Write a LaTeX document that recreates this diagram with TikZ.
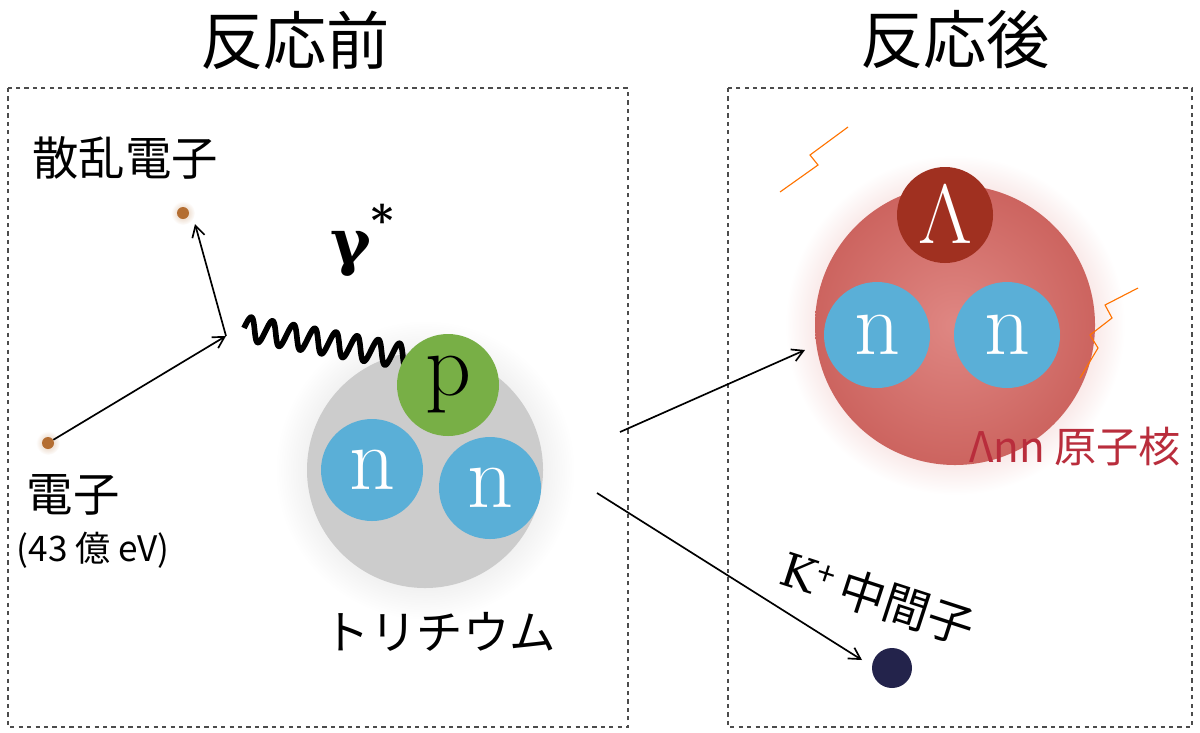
\documentclass[tikz,border=0pt]{standalone}
\usepackage{fontspec}
\newfontfamily\jp{Noto Sans CJK JP}
\newfontfamily\gk{DejaVu Serif}
\usetikzlibrary{arrows.meta}
\definecolor{nblue}{RGB}{90,175,215}
\definecolor{pgreen}{RGB}{120,175,70}
\definecolor{lred}{RGB}{200,60,40}
\definecolor{nred}{RGB}{215,105,100}
\definecolor{dot}{RGB}{180,110,50}
\definecolor{navy}{RGB}{35,35,75}
\definecolor{txtred}{RGB}{185,45,60}
\tikzset{x=0.025cm,y=-0.025cm,
 box/.style={draw=black!70,dashed,line width=0.8pt},
 arr/.style={-{Straight Barb[length=8pt,width=9pt]},line width=1.2pt},
 nuc/.style={circle,minimum size=102*0.025cm,inner sep=0pt,font=\fontsize{64}{64}\selectfont},
 jt/.style={font=\jp\fontsize{33}{33}\selectfont},
 zz/.style={draw=orange!90!red,line width=0.8pt}}
\begin{document}
\begin{tikzpicture}
\useasboundingbox (0,0) rectangle (1200,732);
\node[font=\jp\fontsize{45}{45}\selectfont] (t1) at (295,40) {反応前};
\node[font=\jp\fontsize{45}{45}\selectfont] (t2) at (955,40) {反応後};
\draw[box] (8,88) rectangle (628,727);
\draw[box] (728,88) rectangle (1192,727);
% left
\shade[inner color=black!25,outer color=white] (425,470) circle (150);
\fill[black!20] (425,470) circle (118);
\node[jt] (se) at (125,158) {散乱電子};
\shade[inner color=dot!40,outer color=white] (183,213) circle (12);
\node[circle,fill=dot,minimum size=12*0.025cm,inner sep=0pt] (d1) at (183,213) {};
\shade[inner color=dot!40,outer color=white] (48,443) circle (12);
\node[circle,fill=dot,minimum size=12*0.025cm,inner sep=0pt] (d2) at (48,443) {};
\coordinate (v) at (226,336);
\draw[arr] (d2) -- (v);
\draw[arr] (v) -- (195,224);
\begin{scope}[shift={(244,328)},rotate=-10]
\draw[line width=4pt,line join=round] plot[domain=0:8,samples=240,smooth] ({\x*21.5},{-12*sin(\x*360)});
\end{scope}
\node[font=\gk\bfseries\fontsize{44}{44}\selectfont] (g) at (362,240) {γ\raisebox{0.45em}{\fontsize{30}{30}\selectfont *}};
\node[nuc,fill=pgreen] (p) at (448,385) {p};
\node[nuc,fill=nblue,text=white] (n1) at (372,470) {n};
\node[nuc,fill=nblue,text=white] (n2) at (490,488) {n};
\node[jt,anchor=west] (e) at (22,495) {電子};
\node[font=\jp\fontsize{25}{25}\selectfont,anchor=west] (ev) at (12,550) {(43 億 eV)};
\node[jt] (tr) at (440,632) {トリチウム};
\coordinate (a1) at (620,432);
\coordinate (a2) at (597,493);
% right
\shade[inner color=nred!80,outer color=white] (955,325) circle (170);
\shade[inner color=nred!80!white,outer color=nred!95!black] (955,325) circle (140);
\node[nuc,fill=lred!80!black,text=white,minimum size=96*0.025cm] (L) at (945,215) {\scalebox{2.4}{$\Lambda$}};
\node[nuc,fill=nblue,text=white,minimum size=106*0.025cm] (n3) at (877,335) {n};
\node[nuc,fill=nblue,text=white,minimum size=106*0.025cm] (n4) at (1007,335) {n};
\coordinate (b1) at (805,350);
\coordinate (b2) at (862,660);
\draw[arr] (a1) -- (b1);
\draw[arr] (a2) -- (b2);
\draw[zz] (848,127) -- (810,155) -- (818,165) -- (780,192);
\draw[zz] (1138,288) -- (1105,305) -- (1112,318) -- (1090,335) -- (1098,348) -- (1080,378);
\node[font=\jp\fontsize{30}{30}\selectfont,text=txtred] (ann) at (1075,447) {Λnn 原子核};
\node[jt,rotate=-18] (k) at (878,598) {{\gk K}\textsuperscript{+}\,中間子};
\node[circle,fill=navy,minimum size=40*0.025cm,inner sep=0pt] (kd) at (892,668) {};
\end{tikzpicture}
\end{document}
